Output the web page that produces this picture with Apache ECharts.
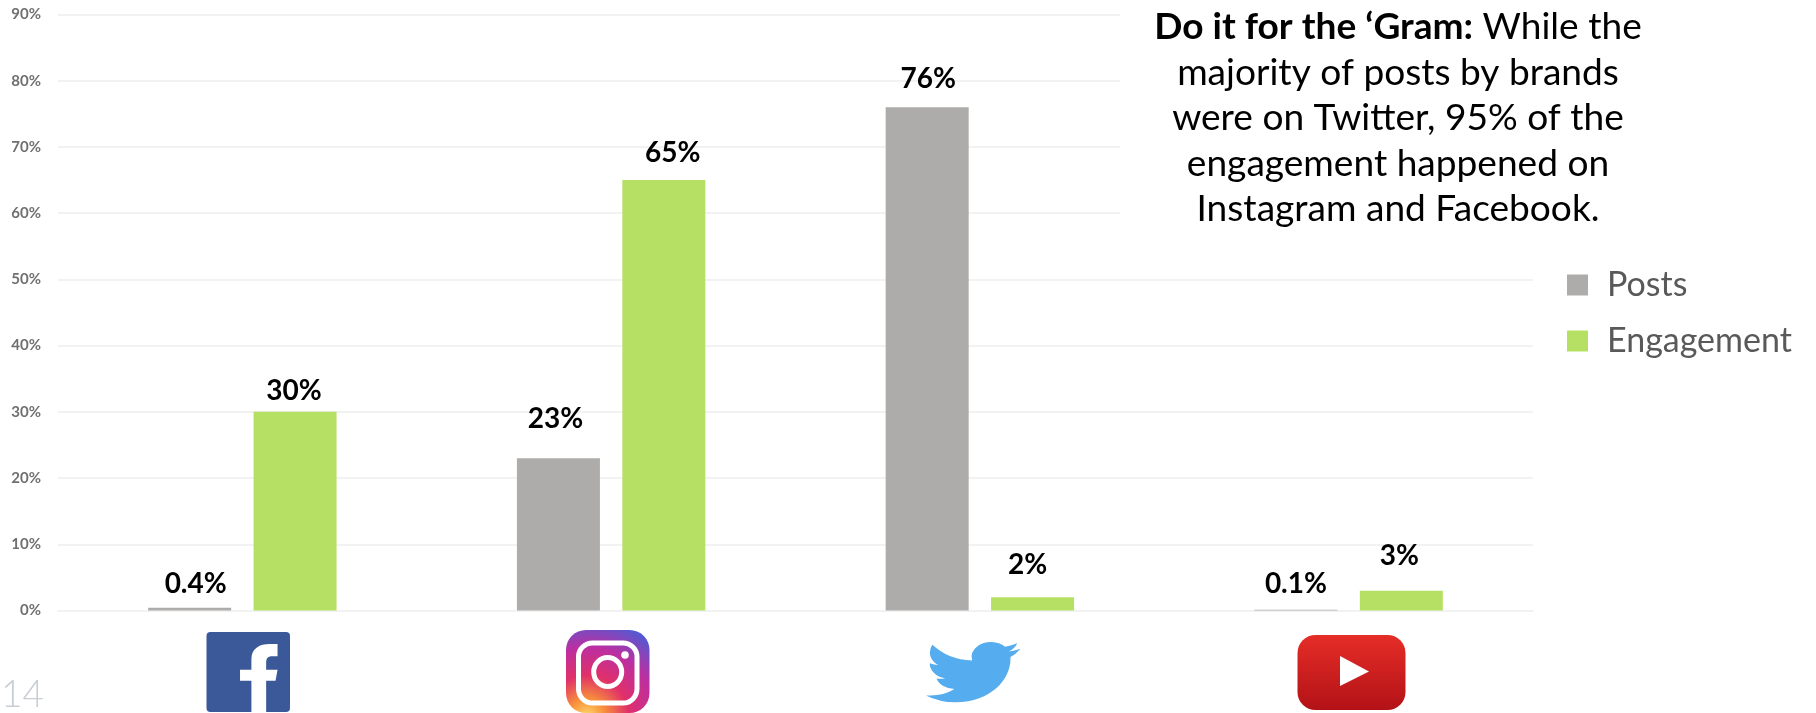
<!DOCTYPE html>
<html>
<head>
<meta charset="utf-8">
<style>html,body{margin:0;padding:0;background:#fff}#chart{width:1816px;height:713px}</style>
<script src="https://cdn.jsdelivr.net/npm/echarts@6/dist/echarts.min.js"></script>
</head>
<body>
<div id="chart"></div>
<script>
// Share of brand posts and engagement per social platform, in percent
const categories = ['Facebook', 'Instagram', 'Twitter', 'YouTube'];
const postsValues = [0.4, 23, 76, 0.1];
const engagementValues = [30, 65, 2, 3];

// Manual nudges for the value labels, [dx, dy] from each bar's top centre
const postsLabelOffsets = [[6, -5], [-3, -20], [1, -9], [0, -7]];
const engagementLabelOffsets = [[-1, -2], [9, -8], [-5, -13], [-2, -16]];

const noteLines = [
  '{b|Do it for the ‘Gram:}{n| While the}',
  '{n|majority of posts by brands}',
  '{n|were on Twitter, 95% of the}',
  '{n|engagement happened on}',
  '{n|Instagram and Facebook.}'
];

const GREY = '#ADACAA';
const GREEN = '#B6E063';
const GRID = '#F2F2F2';

// Logo outlines, registered so the graphic component can use them by name
echarts.graphic.registerShape('fbGlyph', echarts.graphic.extendPath(
  'M23 100V54H6V38H23V22C23 6 36 0 50 0H62V18H54C47 18 45 22 45 28V38H62L59 54H45V100Z', {}
));
echarts.graphic.registerShape('birdGlyph', echarts.graphic.extendPath(
  'M23.953 4.57 a10 10 0 0 1 -2.825 .775 a4.958 4.958 0 0 0 2.163 -2.723 c-.951 .555 -2.005 .959 -3.127 1.184 a4.92 4.92 0 0 0 -8.384 4.482 C7.69 8.095 4.067 6.13 1.64 3.162 a4.822 4.822 0 0 0 -.666 2.475 c0 1.71 .87 3.213 2.188 4.096 a4.904 4.904 0 0 1 -2.228 -.616 v.06 a4.923 4.923 0 0 0 3.946 4.827 a4.996 4.996 0 0 1 -2.212 .085 a4.936 4.936 0 0 0 4.604 3.417 a9.867 9.867 0 0 1 -6.102 2.105 c-.39 0 -.779 -.023 -1.17 -.067 a13.995 13.995 0 0 0 7.557 2.209 c9.053 0 13.998 -7.496 13.998 -13.985 c0 -.21 0 -.42 -.015 -.63 A9.935 9.935 0 0 0 24 4.59 Z', {}
));

function barSeries(name, values, offsets, color) {
  return {
    name: name,
    type: 'bar',
    barWidth: 83,
    barGap: '27%',
    itemStyle: { color: color },
    data: values.map((v, i) => ({
      value: v,
      label: {
        show: true,
        position: 'top',
        offset: offsets[i],
        formatter: v + '%',
        fontFamily: 'Lato',
        fontWeight: 700,
        fontSize: 28,
        color: '#000'
      }
    }))
  };
}

// Platform logos under the axis
const logos = [
  { type: 'rect', shape: { x: 206.5, y: 632, width: 83.5, height: 80, r: 4 }, style: { fill: '#3B5998' } },
  { type: 'fbGlyph', x: 236, y: 644, scaleX: 0.67, scaleY: 0.68, style: { fill: '#fff' } },
  {
    type: 'rect',
    shape: { x: 566, y: 630, width: 83.5, height: 83, r: 20 },
    style: {
      fill: {
        type: 'radial', x: 0.25, y: 1.05, r: 1.2,
        colorStops: [
          { offset: 0, color: '#FFDD70' },
          { offset: 0.18, color: '#F8913A' },
          { offset: 0.42, color: '#E0306A' },
          { offset: 0.7, color: '#BC2FA0' },
          { offset: 1, color: '#4F5BD5' }
        ]
      }
    }
  },
  { type: 'rect', shape: { x: 578.5, y: 643, width: 58.5, height: 60, r: 14 }, style: { fill: 'none', stroke: '#fff', lineWidth: 5 } },
  { type: 'ellipse', shape: { cx: 607.7, cy: 672, rx: 14, ry: 14.5 }, style: { fill: 'none', stroke: '#fff', lineWidth: 5 } },
  { type: 'circle', shape: { cx: 625, cy: 655, r: 3.8 }, style: { fill: '#fff' } },
  { type: 'birdGlyph', x: 926, y: 635, scaleX: 3.92, scaleY: 3.09, style: { fill: '#55ACEE' } },
  {
    type: 'rect',
    shape: { x: 1297.5, y: 635, width: 108, height: 75, r: 18 },
    style: {
      fill: {
        type: 'linear', x: 0, y: 0, x2: 0, y2: 1,
        colorStops: [{ offset: 0, color: '#E52D27' }, { offset: 1, color: '#B31217' }]
      }
    }
  },
  { type: 'polygon', shape: { points: [[1340, 656], [1369, 671.5], [1340, 686]] }, style: { fill: '#fff' } }
];

const chart = echarts.init(document.getElementById('chart'), null, { renderer: 'canvas' });
chart.setOption({
  animation: false,
  backgroundColor: '#fff',
  grid: { left: 58, right: 283, top: 14.5, height: 596 },
  legend: {
    orient: 'vertical',
    left: 1567,
    top: 268,
    padding: 0,
    icon: 'rect',
    itemWidth: 21,
    itemHeight: 21,
    itemGap: 22,
    data: ['Posts', 'Engagement'],
    textStyle: { fontFamily: 'Lato', fontSize: 34, lineHeight: 34, color: '#595959', padding: [0, 0, 0, 14] }
  },
  xAxis: {
    type: 'category',
    data: categories,
    axisLine: { lineStyle: { color: GRID, width: 2 } },
    axisTick: { show: false },
    axisLabel: { show: false }
  },
  yAxis: {
    type: 'value',
    min: 0,
    max: 90,
    interval: 10,
    axisLine: { show: false },
    axisTick: { show: false },
    splitLine: { lineStyle: { color: GRID, width: 2 } },
    axisLabel: {
      formatter: '{value}%',
      fontFamily: 'Lato',
      fontWeight: 700,
      fontSize: 15,
      color: '#707070',
      margin: 17
    }
  },
  series: [
    barSeries('Posts', postsValues, postsLabelOffsets, GREY),
    barSeries('Engagement', engagementValues, engagementLabelOffsets, GREEN)
  ],
  graphic: {
    elements: [
      // Clear the grid behind the note
      { type: 'rect', z: 5, shape: { x: 1120, y: 0, width: 420, height: 240 }, style: { fill: '#fff' } },
      {
        type: 'text',
        z: 6,
        x: 1398,
        y: 5,
        scaleX: 1.03,
        style: {
          text: noteLines.join('\n'),
          align: 'center',
          verticalAlign: 'top',
          rich: {
            b: { fontFamily: 'Lato', fontWeight: 700, fontSize: 36, lineHeight: 45.5, fill: '#000', color: '#000' },
            n: { fontFamily: 'Lato', fontSize: 36, lineHeight: 45.5, fill: '#000', color: '#000' }
          }
        }
      },
      // Slide number
      {
        type: 'text',
        x: 1,
        y: 677,
        style: { text: '14', fontFamily: 'Lato', fontWeight: 300, fontSize: 37, fill: '#C9CED4' }
      }
    ].concat(logos)
  }
});
</script>
</body>
</html>
